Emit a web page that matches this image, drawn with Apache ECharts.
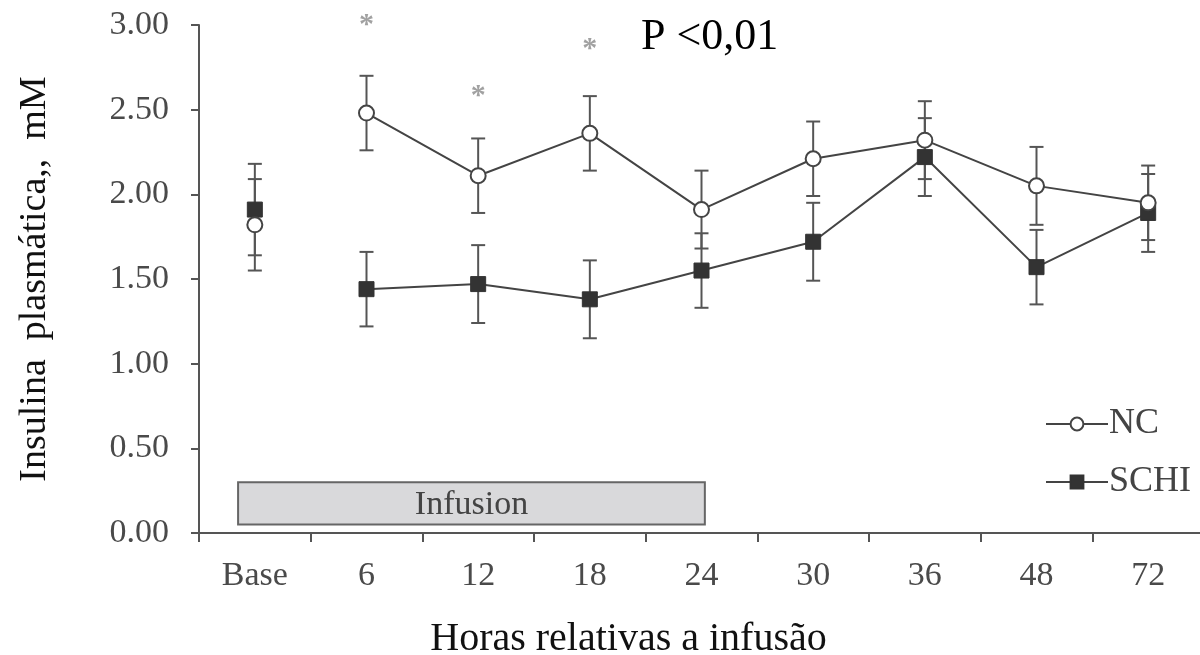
<!DOCTYPE html>
<html>
<head>
<meta charset="utf-8">
<script src="https://cdn.jsdelivr.net/npm/echarts@6/dist/echarts.min.js"></script>
<style>
html,body{margin:0;padding:0;background:#fff;}
#chart{width:1200px;height:655px;}
</style>
</head>
<body>
<div id="chart"></div>
<script>
// ---- data ----
const categories = ['Base', '6', '12', '18', '24', '30', '36', '48', '72'];
const yTicks = [0, 0.5, 1, 1.5, 2, 2.5, 3];
const ncMean = [1.82, 2.48, 2.11, 2.36, 1.91, 2.21, 2.32, 2.05, 1.95];
const ncErr  = [0.27, 0.22, 0.22, 0.22, 0.23, 0.22, 0.23, 0.23, 0.22];
const schiMean = [1.91, 1.44, 1.47, 1.38, 1.55, 1.72, 2.22, 1.57, 1.89];
const schiErr  = [0.27, 0.22, 0.23, 0.23, 0.22, 0.23, 0.23, 0.22, 0.23];
const starCategories = ['6', '12', '18'];
const starValues = [3.04, 2.62, 2.90];
// Infusion box, in category units (0..9) and y-values
const infusionSpan = [0.35, 4.53];
const infusionRange = [0.05, 0.30];
const infusionLabel = 'Infusion';
const pLabel = 'P <0,01';

const SERIF = '"Liberation Serif", "DejaVu Serif", serif';
const AX = '#555';
const LINE = '#444';

const chart = echarts.init(document.getElementById('chart'), null, {renderer: 'canvas'});

function errData(mean, err) {
  return mean.map((m, i) => [i, m - err[i], m + err[i]]);
}
function errRender(params, api) {
  const x = api.value(0);
  const lo = api.coord([x, api.value(1)]);
  const hi = api.coord([x, api.value(2)]);
  const cw = 7;
  const style = {stroke: '#555', lineWidth: 2, fill: null};
  return {
    type: 'group',
    children: [
      {type: 'line', shape: {x1: lo[0], y1: lo[1], x2: hi[0], y2: hi[1]}, style: style},
      {type: 'line', shape: {x1: lo[0] - cw, y1: lo[1], x2: lo[0] + cw, y2: lo[1]}, style: style},
      {type: 'line', shape: {x1: hi[0] - cw, y1: hi[1], x2: hi[0] + cw, y2: hi[1]}, style: style}
    ]
  };
}

const ncLine = ncMean.map((v, i) => (i === 0 ? null : v));
const schiLine = schiMean.map((v, i) => (i === 0 ? null : v));

const option = {
  backgroundColor: '#fff',
  animation: false,
  title: {
    text: pLabel,
    left: 636,
    top: 10,
    textStyle: {fontFamily: SERIF, fontSize: 44, fontWeight: 'normal', color: '#000'}
  },
  legend: {
    left: 1040,
    top: 401,
    orient: 'vertical',
    itemGap: 22,
    itemWidth: 62,
    itemHeight: 16,
    data: ['NC', 'SCHI'],
    textStyle: {fontFamily: SERIF, fontSize: 36, color: '#444', padding: [0, 0, 0, -4]}
  },
  grid: {left: 199, top: 25, width: 1005, bottom: 122, containLabel: false, outerBoundsMode: 'none'},
  xAxis: [
    {
      type: 'category',
      data: categories,
      boundaryGap: true,
      axisLine: {show: true, lineStyle: {color: AX, width: 2}},
      axisTick: {show: true, length: 9, lineStyle: {color: AX, width: 2}},
      axisLabel: {fontFamily: SERIF, fontSize: 34, color: '#4a4a4a', margin: 26},
      name: 'Horas relativas a infusão',
      nameLocation: 'middle',
      nameGap: 86,
      nameTextStyle: {fontFamily: SERIF, fontSize: 40, color: '#111', padding: [0, 146, 0, 0]}
    },
    {
      type: 'value',
      min: 0,
      max: categories.length,
      show: false
    }
  ],
  yAxis: {
    type: 'value',
    min: yTicks[0],
    max: yTicks[yTicks.length - 1],
    interval: 0.5,
    splitLine: {show: false},
    axisLine: {show: true, lineStyle: {color: AX, width: 2}},
    axisTick: {show: true, length: 8, lineStyle: {color: AX, width: 2}},
    axisLabel: {fontFamily: SERIF, fontSize: 34, color: '#4a4a4a', margin: 30,
      formatter: v => v.toFixed(2)},
    name: 'Insulina  plasmática,,  mM',
    nameLocation: 'middle',
    nameGap: 145,
    nameTextStyle: {fontFamily: SERIF, fontSize: 38, color: '#111'}
  },
  series: [
    {
      name: 'infusion',
      type: 'custom',
      xAxisIndex: 1,
      z: 1,
      silent: true,
      data: [[infusionSpan[0], infusionSpan[1], infusionRange[0], infusionRange[1]]],
      renderItem: function (params, api) {
        const p1 = api.coord([api.value(0), api.value(3)]);
        const p2 = api.coord([api.value(1), api.value(2)]);
        return {
          type: 'group',
          children: [
            {type: 'rect', shape: {x: p1[0], y: p1[1], width: p2[0] - p1[0], height: p2[1] - p1[1]},
              style: {fill: '#d9d9db', stroke: '#666', lineWidth: 2}},
            {type: 'text', style: {text: infusionLabel, x: (p1[0] + p2[0]) / 2, y: (p1[1] + p2[1]) / 2 + 2,
              textAlign: 'center', textVerticalAlign: 'middle', font: '34px ' + SERIF, fill: '#444'}}
          ]
        };
      }
    },
    {name: 'errNC', type: 'custom', z: 2, silent: true, data: errData(ncMean, ncErr), renderItem: errRender},
    {name: 'errSCHI', type: 'custom', z: 2, silent: true, data: errData(schiMean, schiErr), renderItem: errRender},
    {
      name: 'NC',
      type: 'line',
      z: 4,
      data: ncLine,
      connectNulls: false,
      symbol: 'circle',
      symbolSize: 15,
      lineStyle: {color: LINE, width: 2},
      itemStyle: {color: '#fff', borderColor: LINE, borderWidth: 2}
    },
    {
      name: 'SCHI',
      type: 'line',
      z: 3,
      data: schiLine,
      connectNulls: false,
      symbol: 'rect',
      symbolSize: 15,
      lineStyle: {color: LINE, width: 2},
      itemStyle: {color: '#333', borderColor: '#333', borderWidth: 1}
    },
    {
      name: 'SCHI base',
      type: 'scatter',
      z: 3,
      data: [[categories[0], schiMean[0]]],
      symbol: 'rect',
      symbolSize: 15,
      itemStyle: {color: '#333', borderColor: '#333', borderWidth: 1, opacity: 1}
    },
    {
      name: 'NC base',
      type: 'scatter',
      z: 4,
      data: [[categories[0], ncMean[0]]],
      symbol: 'circle',
      symbolSize: 15,
      itemStyle: {color: '#fff', borderColor: LINE, borderWidth: 2, opacity: 1}
    },
    {
      name: 'stars',
      type: 'scatter',
      z: 5,
      silent: true,
      clip: false,
      data: starCategories.map((c, i) => [c, starValues[i]]),
      symbolSize: 0,
      label: {show: true, position: 'inside', formatter: '*', fontFamily: SERIF, fontSize: 30, fontWeight: 'bold', color: '#8a8a8a', offset: [0, 7]}
    }
  ]
};
chart.setOption(option);
</script>
</body>
</html>
